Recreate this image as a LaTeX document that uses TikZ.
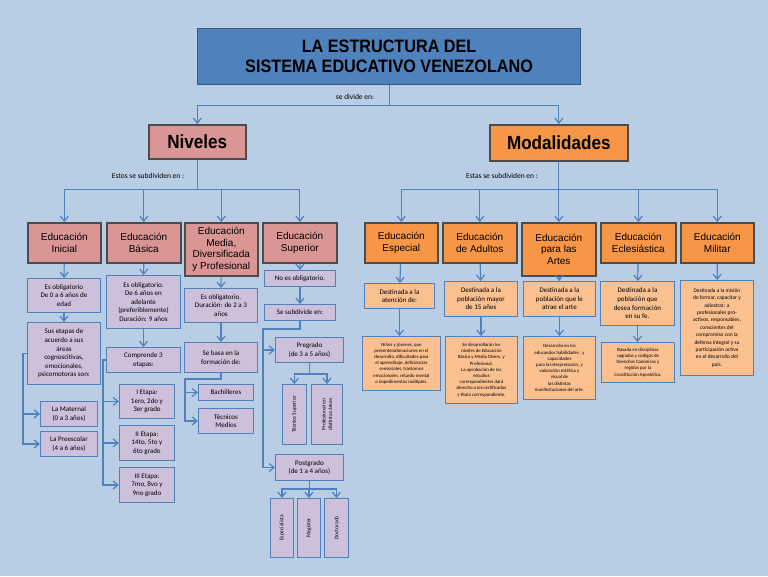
\documentclass[tikz,border=0pt]{standalone}
\usepackage{fontspec}
\setmainfont{Carlito}
\newfontfamily\hdr{Liberation Sans}
\usetikzlibrary{arrows.meta}
\definecolor{bg}{HTML}{B9CDE5}
\definecolor{lav}{HTML}{CCC0DA}
\definecolor{bl}{HTML}{4F81BD}
\definecolor{pk}{HTML}{D99694}
\definecolor{org}{HTML}{F79646}
\definecolor{lor}{HTML}{FAC090}
\tikzset{
 ar/.style={draw=bl,line width=1.2pt,-{Straight Barb[length=5pt,width=8pt]}},
 box/.style={draw=bl,line width=0.9pt,fill=lav,anchor=north west,align=center,inner sep=1pt,font=\fontsize{7}{8.6}\selectfont},
 obox/.style={box,fill=lor},
 hd/.style={draw=black!70,line width=1.6pt,fill=pk,anchor=north west,align=center,inner sep=1pt,font=\hdr\fontsize{10}{11.5}\selectfont},
 ohd/.style={hd,fill=org},
 lbl/.style={font=\fontsize{7.5}{9}\selectfont}
}
\begin{document}
\begin{tikzpicture}[x=1pt,y=-1pt]
\fill[bg] (0,0) rectangle (768,576);
\useasboundingbox (0,0) rectangle (768,576);
% top
\node[draw=bl!70!black,line width=1.2pt,fill=bl,anchor=north west,minimum width=383,minimum height=56,align=center,font=\hdr\bfseries\fontsize{18}{20}\selectfont] (title) at (197,28) {\scalebox{0.9}[1]{LA ESTRUCTURA DEL}\\\scalebox{0.9}[1]{SISTEMA EDUCATIVO VENEZOLANO}};
\node[hd,font=\hdr\bfseries\fontsize{19}{21}\selectfont,minimum width=97,minimum height=34] (niv) at (148,124) {\scalebox{0.9}[1]{Niveles}};
\node[ohd,font=\hdr\bfseries\fontsize{19}{21}\selectfont,minimum width=138,minimum height=36] (mod) at (489,124) {\scalebox{0.9}[1]{Modalidades}};
\draw[ar] (title.south) -- ++(0,20) -| (niv.north);
\draw[ar] (title.south) -- ++(0,20) -| (mod.north);
\node[lbl] (t1) at (355,97) {se divide en:};
\node[lbl] (t2) at (148,176) {Estos se subdividen en :};
\node[lbl] (t3) at (502,176) {Estas se subdividen en :};
% level headers
\node[hd,minimum width=73,minimum height=40] (ini) at (27,222) {Educación\\Inicial};
\node[hd,minimum width=74,minimum height=40] (bas) at (106,222) {Educación\\Básica};
\node[hd,minimum width=73,minimum height=53] (med) at (184,222) {Educación\\Media,\\Diversificada\\y Profesional};
\node[hd,minimum width=74,minimum height=40] (sup) at (262,222) {Educación\\Superior};
\foreach \n in {ini,bas,med,sup}{\draw[ar] (niv.south) -- ++(0,30) -| (\n.north);}
% modalidad headers
\node[ohd,minimum width=73,minimum height=40] (esp) at (364,222) {Educación\\Especial};
\node[ohd,minimum width=74,minimum height=40] (adu) at (442,222) {Educación\\de Adultos};
\node[ohd,minimum width=74,minimum height=53] (art) at (521,222) {Educación\\para las\\Artes};
\node[ohd,minimum width=75,minimum height=40] (ecl) at (600,222) {Educación\\Eclesiástica};
\node[ohd,minimum width=73,minimum height=40] (mil) at (680,222) {Educación\\Militar};
\foreach \n in {esp,adu,art,ecl,mil}{\draw[ar] (mod.south) -- ++(0,28) -| (\n.north);}
% Inicial
\node[box,minimum width=73,minimum height=34] (i1) at (27,278) {Es obligatorio\\De 0 a 6 años de\\edad};
\node[box,minimum width=73,minimum height=62] (i2) at (27,322) {Sus etapas de\\acuerdo a sus\\áreas\\cognoscitivas,\\emocionales,\\psicomotoras son:};
\node[box,minimum width=57,minimum height=25] (i3) at (40,401) {La Maternal\\(0 a 3 años)};
\node[box,minimum width=57,minimum height=25] (i4) at (40,431) {La Preescolar\\(4 a 6 años)};
\draw[ar] (ini) -- (i1); \draw[ar] (i1) -- (i2);
\draw[ar] (i2.west) -- ++(-4,0) |- (i3.west);
\draw[ar] (i2.west) -- ++(-4,0) |- (i4.west);
% Basica
\node[box,minimum width=74,minimum height=53] (b1) at (106,275) {Es obligatorio.\\De 6 años en\\adelante\\(preferiblemente)\\Duración: 9 años};
\node[box,minimum width=74,minimum height=25] (b2) at (106,347) {Comprende 3\\etapas:};
\node[box,minimum width=55,minimum height=34] (b3) at (119,384) {I Etapa:\\1ero, 2do y\\3er grado};
\node[box,minimum width=55,minimum height=35] (b4) at (119,425) {II Etapa:\\14to, 5to y\\6to grado};
\node[box,minimum width=55,minimum height=35] (b5) at (119,467) {III Etapa:\\7mo, 8vo y\\9no grado};
\draw[ar] (bas) -- (b1); \draw[ar] (b1) -- (b2);
\foreach \n in {b3,b4,b5}{\draw[ar] (b2.west) -- ++(-3,0) |- (\n.west);}
% Media
\node[box,minimum width=73,minimum height=34] (m1) at (184,288) {Es obligatorio.\\Duración: de 2 a 3\\años};
\node[box,minimum width=73,minimum height=30] (m2) at (184,342) {Se basa en la\\formación de:};
\node[box,minimum width=55,minimum height=16] (m3) at (198,384) {Bachilleres};
\node[box,minimum width=55,minimum height=25] (m4) at (198,408) {Técnicos\\Medios};
\draw[ar] (med) -- (m1); \draw[ar] (m1) -- (m2);
\foreach \n in {m3,m4}{\draw[ar] (m2.south) -- ++(0,6) -| ([xshift=-13pt]\n.west) |- (\n.west);}
% Superior
\node[box,minimum width=71,minimum height=16] (s1) at (264,270) {No es obligatorio.};
\node[box,minimum width=71,minimum height=16] (s2) at (264,304) {Se subdivide en:};
\node[box,minimum width=68,minimum height=25] (s3) at (275,337) {Pregrado\\(de 3 a 5 años)};
\node[box,minimum width=24,minimum height=60] (s4) at (282,384) {};
\node[box,minimum width=31,minimum height=60] (s5) at (311,384) {};
\node[rotate=90,font=\fontsize{5.5}{6.5}\selectfont,align=center] (s4t) at (s4.center) {Técnico Superior};
\node[rotate=90,font=\fontsize{5.5}{6.5}\selectfont,align=center] (s5t) at (s5.center) {Profesional en\\distintas áreas};
\node[box,minimum width=68,minimum height=26] (s6) at (275,454) {Postgrado\\(de 1 a 4 años)};
\node[box,minimum width=23,minimum height=59] (s7) at (270,498) {};
\node[box,minimum width=23,minimum height=59] (s8) at (297,498) {};
\node[box,minimum width=24,minimum height=59] (s9) at (324,498) {};
\node[rotate=90,font=\fontsize{5.5}{6.5}\selectfont] (s7t) at (s7.center) {Especialista};
\node[rotate=90,font=\fontsize{5.5}{6.5}\selectfont] (s8t) at (s8.center) {Magíster};
\node[rotate=90,font=\fontsize{5.5}{6.5}\selectfont] (s9t) at (s9.center) {Doctorado};
\draw[ar] (sup) -- (s1); \draw[ar] (s1) -- (s2);
\draw[ar] (s2.south) -- ++(0,8) -| ([xshift=-12pt]s3.west) |- (s3.west);
\draw[ar] (s2.south) -- ++(0,8) -| ([xshift=-12pt]s6.west) |- (s6.west);
\foreach \n in {s4,s5}{\draw[ar] (s3.south) -- ++(0,11) -| (\n.north);}
\foreach \n in {s7,s8,s9}{\draw[ar] (s6.south) -- ++(0,8) -| (\n.north);}
% Modalidades columns
\node[obox,minimum width=70,minimum height=25] (e1) at (364,283) {Destinada a la\\atención de:};
\node[obox,minimum width=78,minimum height=54,font=\fontsize{4.8}{6.2}\selectfont] (e2) at (362,336) {Niños y jóvenes, que\\presentenalteraciones en el\\desarrollo, dificultades para\\el aprendizaje, deficiencias\\sensoriales, trastornos\\emocionales, retardo mental\\o impedimentos múltiples.};
\draw[ar] (esp) -- (e1); \draw[ar] (e1) -- (e1 |- e2.north);
\node[obox,minimum width=73,minimum height=35] (a1) at (444,281) {Destinada a la\\población mayor\\de 15 años};
\node[obox,minimum width=72,minimum height=67,font=\fontsize{4.8}{6.2}\selectfont] (a2) at (445,336) {Se desarrollarán los\\niveles de Educación\\Básica y Media Divers. y\\Profesional.\\La aprobación de los\\estudios\\correspondientes dará\\derecho a los certificados\\y título correspondiente.};
\draw[ar] (adu) -- (a1); \draw[ar] (a1) -- (a1 |- a2.north);
\node[obox,minimum width=72,minimum height=35] (r1) at (523,281) {Destinada a la\\población que le\\atrae el arte};
\node[obox,minimum width=72,minimum height=63,font=\fontsize{4.8}{6.2}\selectfont] (r2) at (523,336) {Desarrolla en los\\educandos habilidades , y\\capacidades\\para la interpretación, y\\valoración estética y\\visual de\\las distintas\\manifestaciones del arte.};
\draw[ar] (art) -- (r1); \draw[ar] (r1) -- (r1 |- r2.north);
\node[obox,minimum width=74,minimum height=44] (c1) at (600,281) {Destinada a la\\población que\\desea formación\\en su fe.};
\node[obox,minimum width=73,minimum height=40,font=\fontsize{4.8}{6.2}\selectfont] (c2) at (601,342) {Basada en disciplinas\\sagradas y códigos de\\Derechos Canónicos y\\regidos por la\\Constitución Apostólica.};
\draw[ar] (ecl) -- (c1); \draw[ar] (c1) -- (c1 |- c2.north);
\node[obox,minimum width=73,minimum height=95,font=\fontsize{5.4}{7.4}\selectfont] (l1) at (680,280) {Destinada a la misión\\de formar, capacitar y\\adiestrar: a\\profesionales pro-\\activos, responsables,\\conscientes del\\compromiso con la\\defensa integral y su\\participación activa\\en el desarrollo del\\país.};
\draw[ar] (mil) -- (l1);
\end{tikzpicture}
\end{document}
